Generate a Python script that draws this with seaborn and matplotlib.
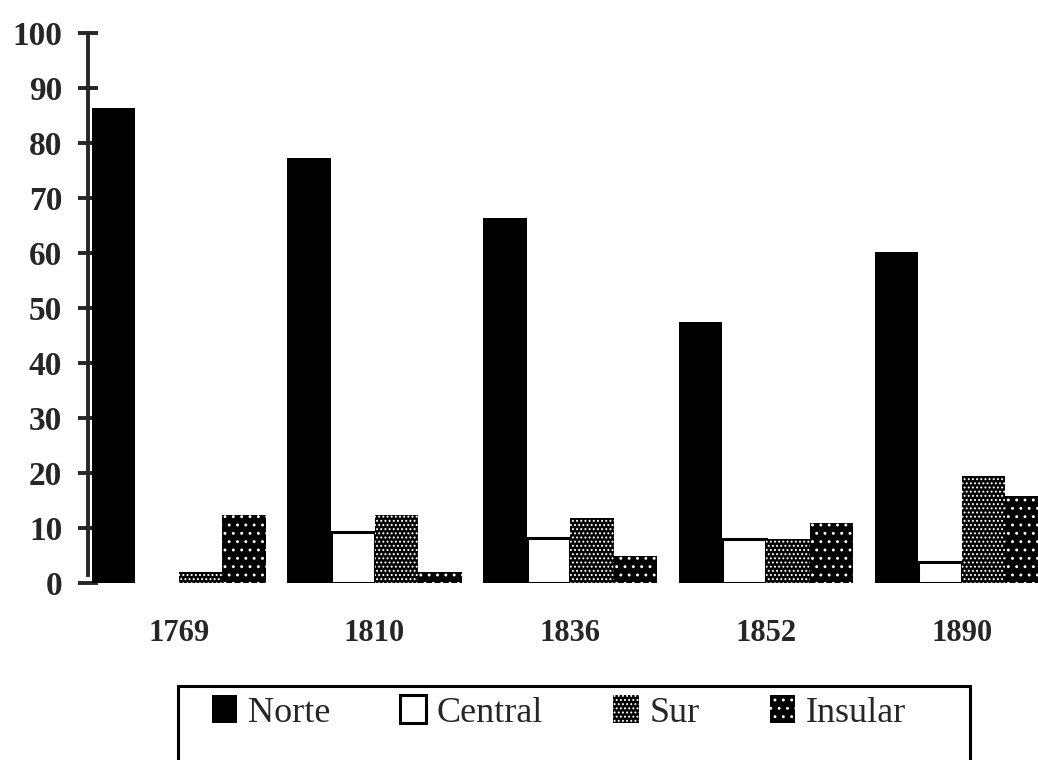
import matplotlib
matplotlib.use("Agg")
import matplotlib.pyplot as plt
import seaborn as sns
import pandas as pd
from matplotlib.patches import Rectangle

# Values (percent by region)
years = ["1769", "1810", "1836", "1852", "1890"]
regions = ["Norte", "Central", "Sur", "Insular"]
norte = [86.4, 77.3, 66.4, 47.5, 60.2]
central = [0, 9.3, 8.2, 8.0, 3.8]
sur = [2.0, 12.4, 11.8, 8.0, 19.5]
insular = [12.4, 2.0, 4.9, 11.0, 15.8]

rows = []
for name, vals in zip(regions, [norte, central, sur, insular]):
    for y, v in zip(years, vals):
        rows.append({"year": y, "region": name, "value": v})
df = pd.DataFrame(rows)

sns.set_style("white")
plt.rcParams["font.family"] = ["Liberation Serif", "DejaVu Serif"]
plt.rcParams["hatch.color"] = "white"
plt.rcParams["hatch.linewidth"] = 0.9

fig = plt.figure(figsize=(10.38, 7.6), dpi=100)
ax = fig.add_axes([88 / 1038, 177 / 760, 950 / 1038, 550 / 760])

palette = {"Norte": "black", "Central": "white", "Sur": "black", "Insular": "black"}
sns.barplot(data=df, x="year", y="value", hue="region", hue_order=regions,
            order=years, palette=palette, saturation=1, width=0.89, gap=0,
            legend=True, ax=ax)

hatches = {"Norte": None, "Central": None, "Sur": "....", "Insular": ".."}


def style_patch(p, name):
    if name == "Central":
        p.set_facecolor("white")
        p.set_edgecolor("black")
        p.set_linewidth(2.2)
        return
    p.set_facecolor("black")
    if hatches[name] and hasattr(p, "set_hatchcolor"):
        p.set_edgecolor("black")
        p.set_linewidth(2.0)
        p.set_hatchcolor("white")
    else:
        p.set_edgecolor("white")
        p.set_linewidth(0)
    if hatches[name]:
        p.set_hatch(hatches[name])


for cont, name in zip(ax.containers, regions):
    for bar in cont:
        style_patch(bar, name)
        if bar.get_height() == 0:
            bar.set_visible(False)

ax.set_xlim(-0.464, 4.39)
ax.set_ylim(0, 100)
ax.set_yticks(range(0, 101, 10))
ax.set_xlabel("")
ax.set_ylabel("")

for side in ["top", "right", "bottom"]:
    ax.spines[side].set_visible(False)
ax.spines["left"].set_linewidth(2.8)
ax.spines["left"].set_bounds(1.5, 100)
ax.tick_params(axis="y", left=True, direction="inout", length=15, width=2.8,
               pad=11, labelsize=24)
for lab in ax.get_yticklabels():
    lab.set_fontweight("bold")
ax.tick_params(axis="x", bottom=False, length=0, pad=26, labelsize=22)
for lab in ax.get_xticklabels():
    lab.set_fontweight("bold")

# legend, boxed, running off the bottom edge like the scan
handles, labels = ax.get_legend_handles_labels()
ax.get_legend().remove()
for h, name in zip(handles, labels):
    style_patch(h, name)
fig.legend(handles, labels, loc="center left", bbox_to_anchor=(179 / 1038, 0.063),
           ncol=4, frameon=False, fontsize=26, handlelength=0.7,
           handleheight=0.85, handletextpad=0.3, columnspacing=1.95)
fig.patches.append(Rectangle((178 / 1038, -0.05), (970 - 178) / 1038, 0.05 + 74 / 760,
                             transform=fig.transFigure, fill=False,
                             edgecolor="black", linewidth=2.2))

fig.savefig("out.png", dpi=100)
